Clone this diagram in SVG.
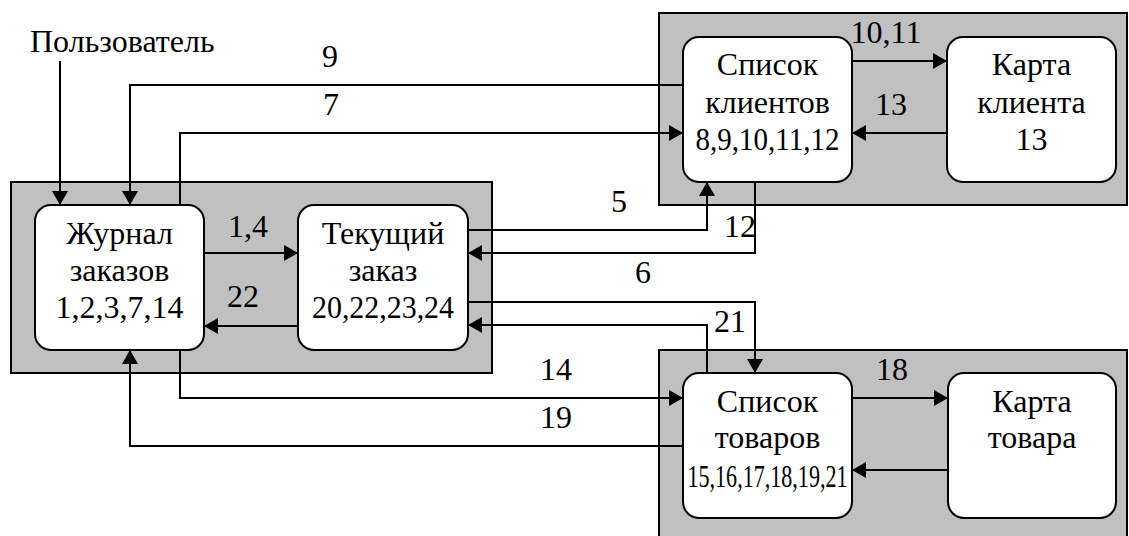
<svg xmlns="http://www.w3.org/2000/svg" width="1129" height="536" viewBox="0 0 1129 536" font-family="'Liberation Serif','Times New Roman',serif">
<style>
.grp{fill:#c0c0c0;stroke:#000;stroke-width:2}
.node{fill:#fff;stroke:#000;stroke-width:2}
.t{font-family:"Liberation Serif","Times New Roman",serif;font-size:32px;fill:#000}
.c{text-anchor:middle}
.ln{fill:none;stroke:#000;stroke-width:2}
.arr{marker-end:url(#ah)}
</style>
<defs>
<marker id="ah" markerUnits="userSpaceOnUse" markerWidth="14" markerHeight="16" refX="14" refY="8" orient="auto">
<path d="M0,0 L14,8 L0,16 Z" fill="#000"/>
</marker>
</defs>
<g id="groups">
<rect class="grp" x="11" y="182" width="481" height="191"/>
<rect class="grp" x="659" y="13" width="468" height="192"/>
<rect class="grp" x="659" y="350" width="468" height="200"/>
</g>
<g id="connectors">
<path class="ln arr" d="M60,61 V205"/>
<path class="ln arr" d="M683,85 H130 V205"/>
<path class="ln arr" d="M180,205 V133 H683"/>
<path class="ln arr" d="M204,253 H298"/>
<path class="ln arr" d="M298,326 H204"/>
<path class="ln arr" d="M468,230 H707 V182"/>
<path class="ln arr" d="M755,182 V253 H468"/>
<path class="ln arr" d="M468,302 H755 V373"/>
<path class="ln arr" d="M707,373 V325 H468"/>
<path class="ln arr" d="M852,61 H947"/>
<path class="ln arr" d="M947,133 H852"/>
<path class="ln arr" d="M180,350 V398 H683"/>
<path class="ln arr" d="M683,446 H130 V350"/>
<path class="ln arr" d="M852,398 H948"/>
<path class="ln arr" d="M948,470 H852"/>
</g>
<g id="labels">
<text class="t" x="30" y="52">Пользователь</text>
<text class="t c" x="330" y="67">9</text>
<text class="t c" x="331" y="115">7</text>
<text class="t c" x="886" y="43">10,11</text>
<text class="t c" x="891" y="115">13</text>
<text class="t c" x="248" y="237">1,4</text>
<text class="t c" x="243" y="307">22</text>
<text class="t c" x="619" y="212">5</text>
<text class="t c" x="740" y="237">12</text>
<text class="t c" x="643" y="283">6</text>
<text class="t c" x="730" y="332">21</text>
<text class="t c" x="556" y="380">14</text>
<text class="t c" x="556" y="428">19</text>
<text class="t c" x="892" y="380">18</text>
</g>
<g id="node-zhurnal">
<rect class="node" x="35" y="205" width="169" height="145" rx="16"/>
<text class="t c" x="119.5" y="244">Журнал</text>
<text class="t c" x="119.5" y="281">заказов</text>
<text class="t c" x="119.5" y="318">1,2,3,7,14</text>
</g>
<g id="node-tekushchiy">
<rect class="node" x="298" y="205" width="170" height="145" rx="16"/>
<text class="t c" x="383" y="244">Текущий</text>
<text class="t c" x="383" y="281">заказ</text>
<text class="t c" x="383" y="318" textLength="142" lengthAdjust="spacingAndGlyphs">20,22,23,24</text>
</g>
<g id="node-klienty">
<rect class="node" x="683" y="37" width="169" height="145" rx="16"/>
<text class="t c" x="767.5" y="75">Список</text>
<text class="t c" x="767.5" y="113">клиентов</text>
<text class="t c" x="767.5" y="150" textLength="144" lengthAdjust="spacingAndGlyphs">8,9,10,11,12</text>
</g>
<g id="node-karta-klienta">
<rect class="node" x="947" y="37" width="169" height="145" rx="16"/>
<text class="t c" x="1031.5" y="75">Карта</text>
<text class="t c" x="1031.5" y="113">клиента</text>
<text class="t c" x="1031.5" y="150">13</text>
</g>
<g id="node-tovary">
<rect class="node" x="683" y="373" width="169" height="145" rx="16"/>
<text class="t c" x="767.5" y="412">Список</text>
<text class="t c" x="767.5" y="448">товаров</text>
<text class="t c" x="767.5" y="487" textLength="160" lengthAdjust="spacingAndGlyphs">15,16,17,18,19,21</text>
</g>
<g id="node-karta-tovara">
<rect class="node" x="948" y="373" width="168" height="145" rx="16"/>
<text class="t c" x="1032" y="412">Карта</text>
<text class="t c" x="1032" y="448">товара</text>
</g>
</svg>
